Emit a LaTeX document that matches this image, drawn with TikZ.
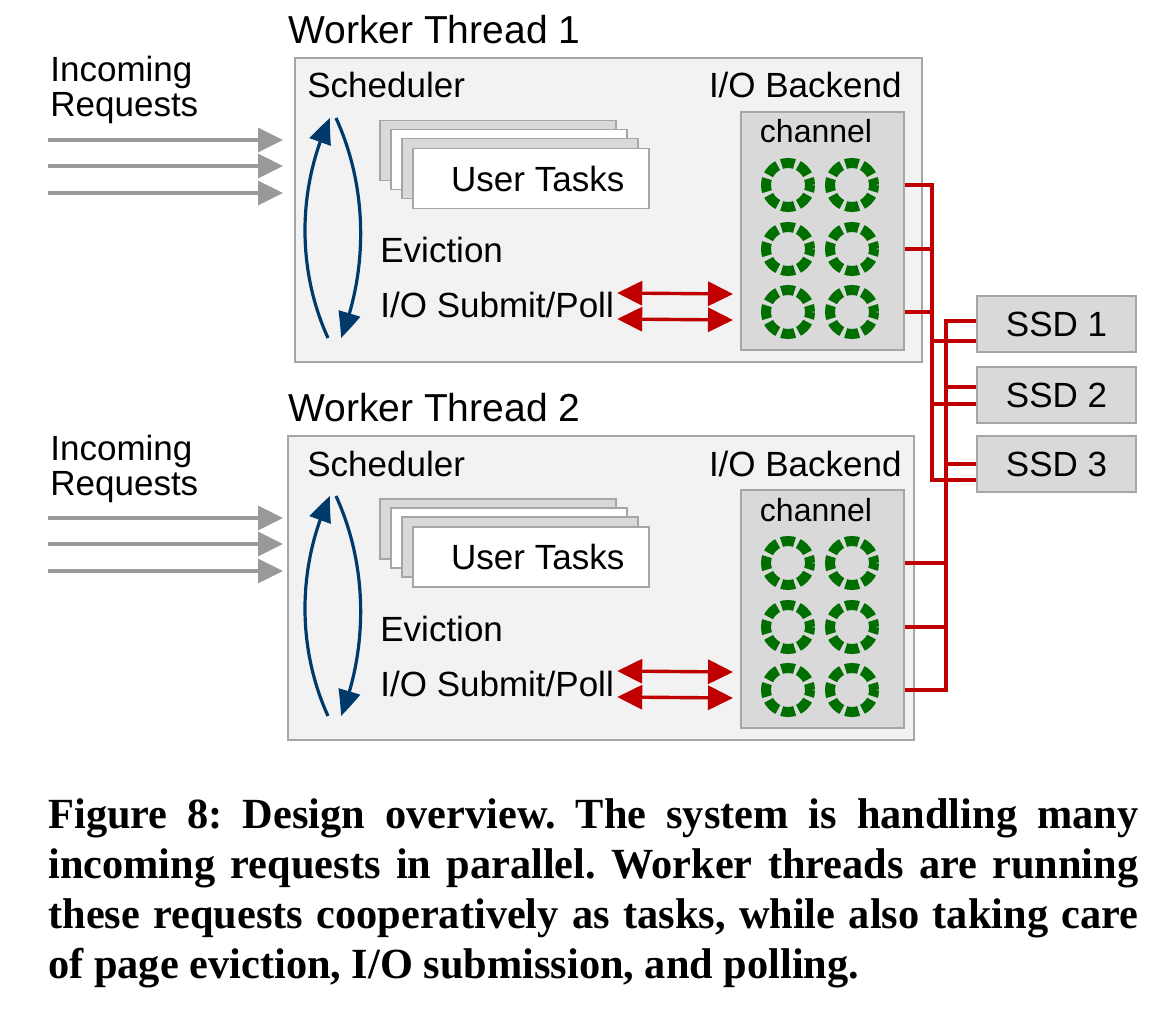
\documentclass[tikz,border=0pt]{standalone}
\usepackage{fontspec}
\setmainfont{Liberation Sans}
\newfontfamily\capfont[FakeStretch=0.985]{Liberation Serif}
\usetikzlibrary{arrows.meta,bending,positioning,calc}
\definecolor{wtFill}{HTML}{F2F2F2}
\definecolor{wtLine}{HTML}{A6A6A6}
\definecolor{wtBox}{HTML}{D9D9D9}
\definecolor{wtBlue}{HTML}{003A6B}
\definecolor{wtRed}{HTML}{C00000}
\definecolor{wtGreen}{HTML}{006F00}
\definecolor{wtReq}{HTML}{999999}
\tikzset{
  lbl/.style={inner sep=0pt, anchor=base west, font=\fontsize{17.5}{21}\selectfont},
  title/.style={lbl, font=\fontsize{19.5}{23}\selectfont},
  thread/.style={draw=wtLine, fill=wtFill, line width=1pt, inner sep=0pt, minimum height=152pt},
  chanbox/.style={draw=wtLine, fill=wtBox, line width=1pt, inner sep=0pt,
    minimum width=81.5pt, minimum height=119pt, anchor=north west},
  taskcard/.style={draw=wtLine, line width=0.75pt, inner sep=0pt, anchor=north west,
    minimum width=118pt, minimum height=30pt, font=\fontsize{17.5}{21}\selectfont},
  ring/.style={circle, draw=wtGreen, line width=5pt, inner sep=0pt, minimum size=22pt,
    dash pattern=on 6.6pt off 2.04pt, dash phase=3.3pt},
  ssd/.style={draw=wtLine, fill=wtBox, line width=1pt, inner sep=0pt,
    minimum width=79.5pt, minimum height=28pt, font=\fontsize{17.5}{21}\selectfont},
  reqarrow/.style={-{Triangle[length=12.5pt,width=12pt]}, line width=1.7pt, wtReq},
  ioarrow/.style={>={Triangle[length=12.5pt,width=12pt]}, <->, line width=1.7pt, wtRed},
  schedarrow/.style={-{Triangle[length=13pt,width=11pt,bend]}, line width=1.6pt, wtBlue},
  wire/.style={line width=1.8pt, wtRed}
}
\begin{document}
\begin{tikzpicture}[x=0.5pt, y=-0.5pt]
  \useasboundingbox (0,0) rectangle (1173,1016);
  \foreach \t/\dy/\xl/\w/\sh in {1/0/294/313.5pt/5.5pt, 2/378/287/313pt/2pt}{
    \begin{scope}[shift={(0,\dy)}]
      \node[title] (title\t) at (288,44) {Worker Thread \t};
      \node[lbl] (inc\t) at (50,82) {Incoming};
      \node[lbl] (reqs\t) at (50,117) {Requests};
      \foreach \k/\y in {1/140, 2/166, 3/193}
        \coordinate (req\t\k) at (48,\y);
      \node[thread, minimum width=\w, anchor=north west] (wt\t) at (\xl,57) {};
      \node[lbl] (sched\t) at (307,98) {Scheduler};
      \node[lbl, anchor=base east] (backend\t) at (902,98) {I/O Backend};
      % stacked task cards
      \foreach \k/\cx/\cy/\f in {1/379/120/wtBox, 2/390/129/white, 3/401/138/wtBox}
        \node[taskcard, fill=\f] (card\t\k) at (\cx,\cy) {};
      \node[taskcard, fill=white] (tasks\t) at (412,148) {\hspace*{7pt}User Tasks};
      \node[lbl] (evict\t) at (380,263) {Eviction};
      \node[lbl] (io\t) at (380,318) {I/O Submit/Poll};
      \coordinate (top\t) at (333,118);
      \coordinate (bot\t) at (334,338);
      % channel with its rings
      \node[chanbox] (ch\t) at (740,111) {};
      \node[lbl, anchor=base, font=\fontsize{16}{19}\selectfont] (chlbl\t) at (816,143) {channel};
      \foreach \i/\ry in {1/185, 2/249, 3/312}
        \foreach \j/\rx in {1/788, 2/852}
          \node[ring] (ring\t\i\j) at (\rx,\ry) {};
    \end{scope}
    \foreach \k in {1,2,3}
      \draw[reqarrow, shorten >=\sh] (req\t\k) -- (req\t\k -| wt\t.west);
    \draw[ioarrow] ($(io\t.base east)+(3,-25)$) -- ($(ch\t.west)+(-7,63)$);
    \draw[ioarrow] ($(io\t.base east)+(3,1)$) -- ($(ch\t.west)+(-7,89)$);
    \draw[schedarrow] ($(bot\t)+(-6,0)$) .. controls +(-31,-68) and +(-33,70) .. ($(top\t)+(-3,0)$);
    \draw[schedarrow] ($(top\t)+(3,0)$) .. controls +(32,70) and +(27,-68) .. ($(bot\t)+(7,0)$);
  }

  % SSDs and wiring
  \foreach \s/\y in {1/324, 2/395, 3/464}
    \node[ssd] (ssd\s) at (1056.5,\y) {SSD \s};
  \foreach \s/\u/\l in {1/-3/17, 2/-8/9, 3/0/16}{
    \coordinate (ssdup\s) at ($(ssd\s.west)+(0,\u)$);
    \coordinate (ssdlo\s) at ($(ssd\s.west)+(0,\l)$);
  }
  \coordinate (busA) at (932,0);
  \coordinate (busB) at (946,0);
  \draw[wire] (ring112 -| ch1.east) -| (busA |- ssdlo3) -- (ssdlo3);
  \foreach \r in {2,3}
    \draw[wire] (ring1\r2 -| ch1.east) -- (ring1\r2 -| busA);
  \foreach \s in {1,2}
    \draw[wire] (busA |- ssdlo\s) -- (ssdlo\s);
  \draw[wire] (ssdup1) -| (busB |- ring232) -- (ring232 -| ch2.east);
  \foreach \r in {1,2}
    \draw[wire] (ring2\r2 -| ch2.east) -- (ring2\r2 -| busB);
  \foreach \s in {2,3}
    \draw[wire] (busB |- ssdup\s) -- (ssdup\s);

  \node[anchor=north west, inner sep=0pt, align=left,
    font=\capfont\bfseries\frenchspacing\fontsize{21.5}{25}\selectfont] (caption) at (48,798)
    {\makebox[545pt][s]{Figure 8: Design overview. The system is handling many}\\
     \makebox[545pt][s]{incoming requests in parallel. Worker threads are running}\\
     \makebox[545pt][s]{these requests cooperatively as tasks, while also taking care}\\
     of page eviction, I/O submission, and polling.};
\end{tikzpicture}
\end{document}
